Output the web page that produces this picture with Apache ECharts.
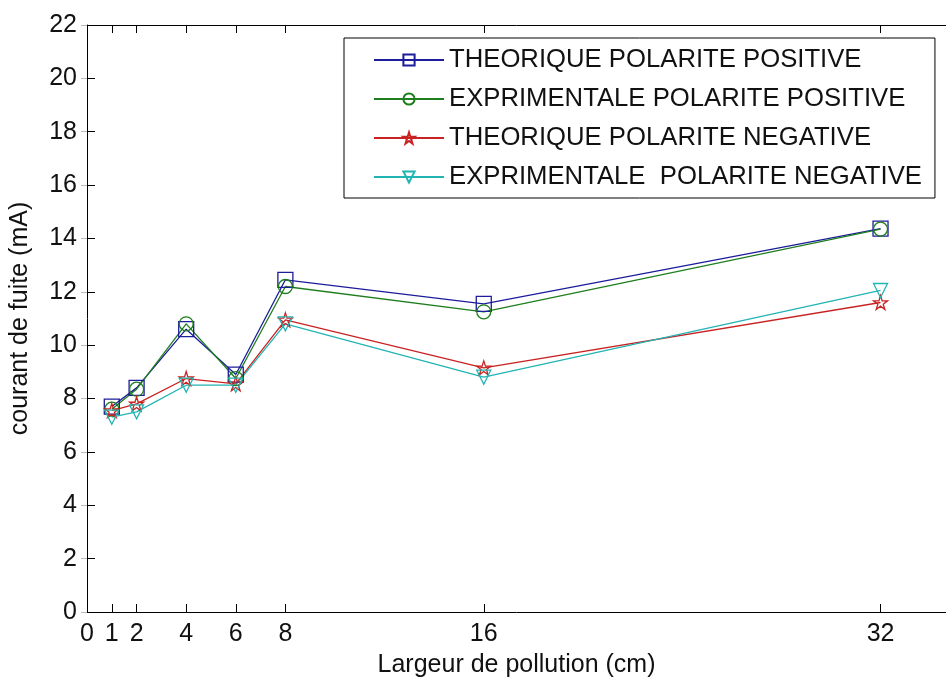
<!DOCTYPE html>
<html>
<head>
<meta charset="utf-8">
<script src="https://cdn.jsdelivr.net/npm/echarts@6/dist/echarts.min.js"></script>
<style>
html,body{margin:0;padding:0;background:#fff;}
#chart{width:946px;height:684px;}
</style>
</head>
<body>
<div id="chart"></div>
<script>
const xValues = [1, 2, 4, 6, 8, 16, 32];
const xTickValues = [0, 1, 2, 4, 6, 8, 16, 32];
const seriesNames = [
  'THEORIQUE POLARITE POSITIVE',
  'EXPRIMENTALE POLARITE POSITIVE',
  'THEORIQUE POLARITE NEGATIVE',
  'EXPRIMENTALE  POLARITE NEGATIVE'
];
const theoPos = [7.7, 8.4, 10.6, 8.9, 12.45, 11.55, 14.37];
const expPos  = [7.6, 8.35, 10.8, 8.75, 12.2, 11.25, 14.35];
const theoNeg = [7.55, 7.8, 8.75, 8.55, 10.95, 9.15, 11.6];
const expNeg  = [7.3, 7.5, 8.5, 8.5, 10.8, 8.8, 12.05];

const FONT = "'Liberation Sans', Arial, Helvetica, sans-serif";
const STAR = 'path://M0,-100 L22.5,-30.9 L95.1,-30.9 L36.3,11.8 L58.8,80.9 L0,38.2 L-58.8,80.9 L-36.3,11.8 L-95.1,-30.9 L-22.5,-30.9 Z';
const TRI_DOWN = 'path://M0,0 L100,0 L50,87 Z';

function pairs(vals){ return xValues.map((x,i)=>[x, vals[i]]); }

function mk(name, vals, color, symbol, size){
  return {
    name: name, type: 'line', data: pairs(vals),
    symbol: symbol, symbolSize: size, showSymbol: true,
    lineStyle: {color: color, width: 1.3},
    itemStyle: {color: 'rgba(255,255,255,0)', borderColor: color, borderWidth: 1.3},
    emphasis: {disabled: true},
    animation: false, z: 3
  };
}

const chart = echarts.init(document.getElementById('chart'));
const axisCommon = {
  type: 'value', min: 0, max: 34.64,
  axisLine: {show: true, onZero: false, lineStyle: {color: '#000', width: 1}},
  splitLine: {show: false}
};
chart.setOption({
  backgroundColor: '#fff',
  animation: false,
  grid: {left: 87, top: 25, width: 859, height: 587, containLabel: false},
  legend: {
    orient: 'vertical', left: 344, top: 38,
    backgroundColor: '#fff', borderColor: '#000', borderWidth: 1,
    padding: [9, 13, 8, 29],
    itemWidth: 70, itemHeight: 14, itemGap: 13,
    textStyle: {fontFamily: FONT, fontSize: 25.7, color: '#111', lineHeight: 24},
    data: seriesNames
  },
  xAxis: [
    Object.assign({}, axisCommon, {
      position: 'bottom',
      name: 'Largeur de pollution (cm)', nameLocation: 'middle', nameGap: 41,
      nameTextStyle: {fontFamily: FONT, fontSize: 25, color: '#111'},
      axisTick: {show: true, inside: true, length: 8, customValues: xTickValues, lineStyle: {color: '#000'}},
      axisLabel: {show: true, customValues: xTickValues, margin: 10, fontFamily: FONT, fontSize: 25, color: '#111'}
    }),
    Object.assign({}, axisCommon, {
      position: 'top',
      axisTick: {show: true, inside: true, length: 8, customValues: xTickValues, lineStyle: {color: '#000'}},
      axisLabel: {show: false}
    })
  ],
  yAxis: [
    {
      type: 'value', min: 0, max: 22, interval: 2, position: 'left',
      axisLine: {show: true, onZero: false, lineStyle: {color: '#000', width: 1}},
      axisTick: {show: true, inside: true, length: 8, lineStyle: {color: '#000'}},
      axisLabel: {margin: 10, fontFamily: FONT, fontSize: 25, color: '#111'},
      splitLine: {show: false},
      name: 'courant de fuite (mA)', nameLocation: 'middle', nameRotate: 90, nameGap: 54,
      nameTextStyle: {fontFamily: FONT, fontSize: 25, color: '#111'}
    },
    {
      type: 'value', min: 0, max: 22, interval: 2, position: 'right',
      axisLine: {show: false},
      axisTick: {show: true, inside: true, length: 6, lineStyle: {color: '#bbb'}},
      axisLabel: {show: false},
      splitLine: {show: false}
    }
  ],
  series: [
    mk(seriesNames[0], theoPos, '#1c1c9c', 'rect', 15),
    mk(seriesNames[1], expPos, '#1e7e1e', 'circle', 14),
    mk(seriesNames[2], theoNeg, '#c82222', STAR, 14),
    mk(seriesNames[3], expNeg, '#22b4b4', TRI_DOWN, 14)
  ]
});
</script>
</body>
</html>
